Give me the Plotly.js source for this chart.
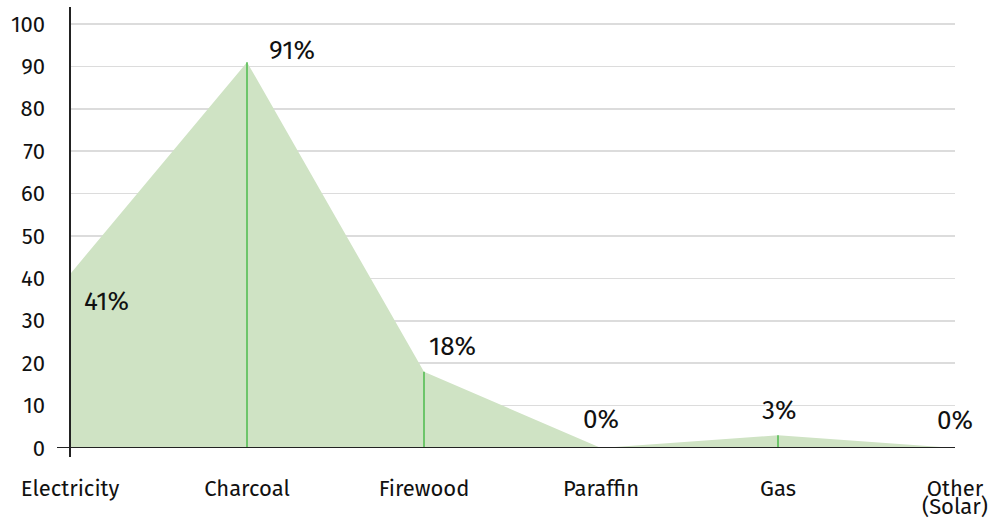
<!DOCTYPE html>
<html><head><meta charset="utf-8">
<script src="https://cdn.plot.ly/plotly-3.0.1.min.js"></script>
<style>body{margin:0;background:#fff}#c{width:993px;height:522px}</style>
</head><body><div id="c"></div>
<script>
var categories = ["Electricity", "Charcoal", "Firewood", "Paraffin", "Gas", "Other (Solar)"];
var tickLines1 = ["Electricity", "Charcoal", "Firewood", "Paraffin", "Gas", "Other"];
var tickLines2 = ["", "", "", "", "", "(Solar)"];
var values = [41, 91, 18, 0, 3, 0];
var labels = ["41%", "91%", "18%", "0%", "3%", "0%"];
var yTicks = [0, 10, 20, 30, 40, 50, 60, 70, 80, 90, 100];
// label placement offsets (px) relative to each point
var labelXAnchor = ["left", "left", "left", "center", "center", "center"];
var labelXShift = [12, 20, 3, 0, 1, 0];
var labelYShift = [-27, 12, 25, 29, 25, 28];

var stemX = [], stemY = [];
categories.forEach(function(c, i){ stemX.push(c, c, null); stemY.push(0, values[i], null); });

var family = "Fira Sans, Open Sans, Noto Sans, sans-serif";
var tickFont = {family: family, size: 22, color: "#111"};
var labelFont = {family: family, size: 26, color: "#111"};

var traces = [
  {x: categories, y: values, type: "scatter", mode: "lines", fill: "tozeroy",
   fillcolor: "#cfe3c4", line: {width: 0, color: "#cfe3c4"}, hoverinfo: "skip"},
  {x: stemX, y: stemY, type: "scatter", mode: "lines", line: {color: "#4cbb4c", width: 1.5}, hoverinfo: "skip"}
];

var annotations = categories.map(function(c, i){
  return {x: c, y: values[i], xref: "x", yref: "y", text: labels[i], showarrow: false,
          xanchor: labelXAnchor[i], yanchor: "middle", xshift: labelXShift[i], yshift: labelYShift[i], font: labelFont};
});
categories.forEach(function(c, i){
  if (tickLines2[i]) annotations.push({x: c, y: 0, xref: "x", yref: "paper", text: tickLines2[i], showarrow: false,
    xanchor: "center", yanchor: "middle", yshift: -58, font: tickFont});
});

var layout = {
  width: 993, height: 522,
  margin: {l: 70, r: 38, t: 7, b: 74},
  paper_bgcolor: "#fff", plot_bgcolor: "#fff",
  showlegend: false,
  font: tickFont,
  xaxis: {type: "category", range: [0, 5], showgrid: false, zeroline: false, showline: false,
          ticks: "", tickfont: tickFont, ticklabelstandoff: 25,
          tickvals: categories, ticktext: tickLines1},
  yaxis: {range: [0, 104], tickvals: yTicks, showgrid: true,
          gridcolor: "#dcdcdc", gridwidth: 1.5, zeroline: false, showline: false, ticks: "",
          tickfont: tickFont, ticklabelstandoff: 24},
  annotations: annotations,
  shapes: [
    {type: "line", xref: "paper", yref: "y", x0: -13/885, x1: 1, y0: 0, y1: 0, line: {color: "#222", width: 2}},
    {type: "line", xref: "paper", yref: "paper", x0: 0, x1: 0, y0: -9/441, y1: 1, line: {color: "#222", width: 2}}
  ]
};
Plotly.newPlot("c", traces, layout, {displayModeBar: false, staticPlot: true});
</script></body></html>
